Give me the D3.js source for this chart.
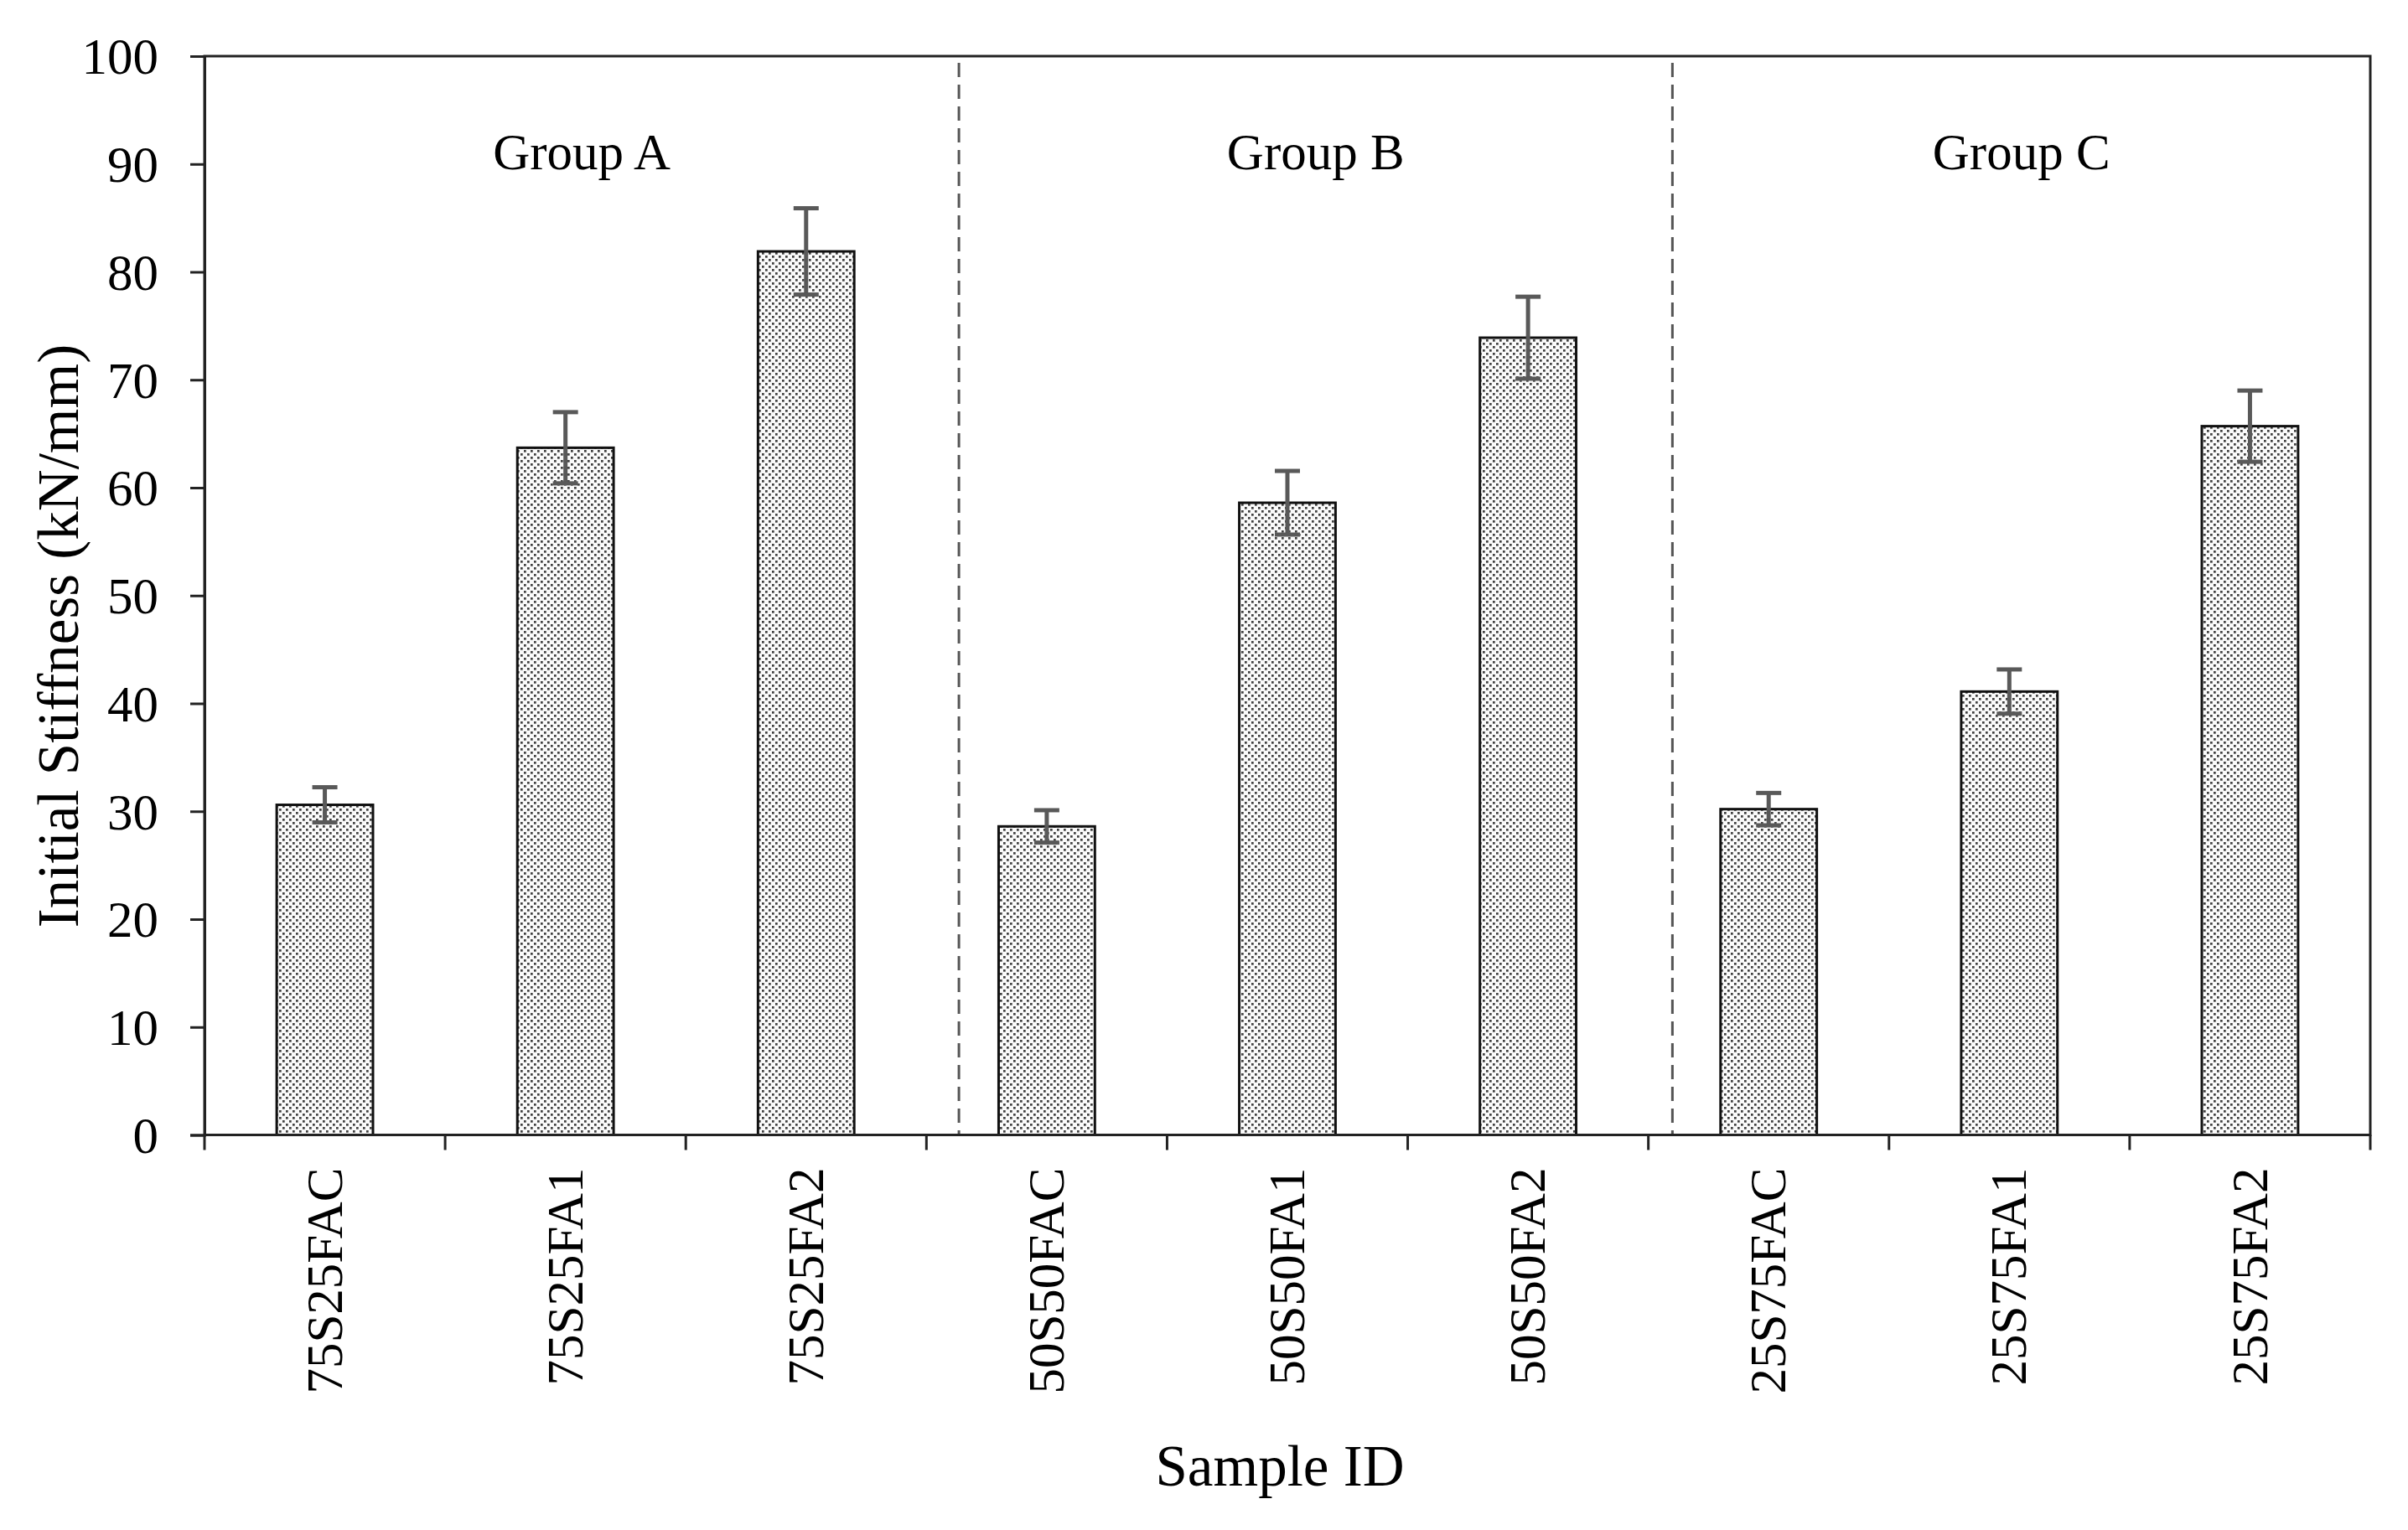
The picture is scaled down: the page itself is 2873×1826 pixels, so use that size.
<!DOCTYPE html>
<html>
<head>
<meta charset="utf-8">
<script src="https://cdn.jsdelivr.net/npm/d3@7"></script>
<style>
  html, body { margin: 0; padding: 0; background: #fff; }
  svg { display: block; }
  text { font-family: "Liberation Serif", "Times New Roman", serif; fill: #000; }
</style>
</head>
<body>
<svg id="chart" width="2873" height="1826"></svg>
<script>
// ---- data ----
const categories = ["75S25FAC", "75S25FA1", "75S25FA2", "50S50FAC", "50S50FA1", "50S50FA2", "25S75FAC", "25S75FA1", "25S75FA2"];
const stiffness  = [30.6, 63.7, 81.9, 28.6, 58.6, 73.9, 30.2, 41.1, 65.7];
const errors     = [1.63, 3.3, 4.0, 1.5, 2.95, 3.8, 1.5, 2.05, 3.3];
const groupNames = ["Group A", "Group B", "Group C"];
const dividerAt  = [3.135, 6.1];          // divider positions, in category-step units
const yTicks     = [0, 10, 20, 30, 40, 50, 60, 70, 80, 90, 100];

// ---- layout ----
const W = 2873, H = 1826;
const L = 244, R = 2828, T = 67, B = 1354.5;
const svg = d3.select("#chart");

const x = d3.scaleBand().domain(categories).range([L, R]).paddingInner(0.6).paddingOuter(0.3);
const y = d3.scaleLinear().domain([0, 100]).range([B, T]);
const step = x.step();
const edge = i => L + i * step;   // category boundary i

// pattern (dotted fill)
const defs = svg.append("defs");
const pat = defs.append("pattern").attr("id", "dots").attr("patternUnits", "userSpaceOnUse")
  .attr("width", 8).attr("height", 8);
pat.append("rect").attr("width", 8).attr("height", 8).attr("fill", "#fafafa");
pat.append("rect").attr("x", 1).attr("y", 1).attr("width", 2.7).attr("height", 2.7).attr("fill", "#3f3f3f");
pat.append("rect").attr("x", 5).attr("y", 5).attr("width", 2.7).attr("height", 2.7).attr("fill", "#3f3f3f");

// dividers
svg.append("g").selectAll("line").data(dividerAt).join("line")
  .attr("x1", d => edge(d)).attr("x2", d => edge(d))
  .attr("y1", T + 8).attr("y2", B)
  .attr("stroke", "#555").attr("stroke-width", 3).attr("stroke-dasharray", "17,9");

// group labels (centered between dividers / frame)
const bounds = [L, ...dividerAt.map(edge), R];
svg.append("g").selectAll("text").data(groupNames).join("text")
  .attr("x", (d, i) => (bounds[i] + bounds[i + 1]) / 2)
  .attr("y", 202)
  .attr("text-anchor", "middle")
  .attr("font-size", 61)
  .text(d => d);

// bars
svg.append("g").selectAll("rect").data(categories).join("rect")
  .attr("x", d => x(d))
  .attr("y", (d, i) => y(stiffness[i]))
  .attr("width", x.bandwidth())
  .attr("height", (d, i) => y(0) - y(stiffness[i]))
  .attr("fill", "url(#dots)")
  .attr("stroke", "#111").attr("stroke-width", 3);

// error bars
const eb = svg.append("g").attr("stroke", "#595959").attr("stroke-width", 5).attr("fill", "none");
categories.forEach((c, i) => {
  const cx = x(c) + x.bandwidth() / 2;
  const hi = y(stiffness[i] + errors[i]), lo = y(stiffness[i] - errors[i]);
  eb.append("line").attr("x1", cx).attr("x2", cx).attr("y1", hi).attr("y2", lo);
  eb.append("line").attr("x1", cx - 15).attr("x2", cx + 15).attr("y1", hi).attr("y2", hi);
  eb.append("line").attr("x1", cx - 15).attr("x2", cx + 15).attr("y1", lo).attr("y2", lo);
});

// frame
svg.append("rect").attr("x", L).attr("y", T).attr("width", R - L).attr("height", B - T)
  .attr("fill", "none").attr("stroke", "#222").attr("stroke-width", 3);

// y axis
const yAxis = svg.append("g").attr("transform", `translate(${L},0)`)
  .call(d3.axisLeft(y).tickValues(yTicks).tickSize(17).tickPadding(38).tickFormat(d3.format("d")));
yAxis.select(".domain").attr("stroke", "#222").attr("stroke-width", 3);
yAxis.selectAll(".tick line").attr("stroke", "#222").attr("stroke-width", 3);
yAxis.selectAll(".tick text").attr("font-size", 61).attr("font-family", "Liberation Serif").attr("fill", "#000").attr("dy", "0.34em");

// x axis boundary ticks
svg.append("g").selectAll("line").data(d3.range(categories.length + 1)).join("line")
  .attr("x1", d => edge(d)).attr("x2", d => edge(d))
  .attr("y1", B).attr("y2", B + 18)
  .attr("stroke", "#222").attr("stroke-width", 3);

// x labels (rotated)
svg.append("g").selectAll("text").data(categories).join("text")
  .attr("transform", d => `translate(${x(d) + x.bandwidth() / 2},${B + 39}) rotate(-90)`)
  .attr("text-anchor", "end")
  .attr("dy", "0.33em")
  .attr("font-size", 61)
  .text(d => d);

// axis titles
svg.append("text").attr("x", 1527).attr("y", 1773).attr("text-anchor", "middle")
  .attr("font-size", 69).text("Sample ID");
svg.append("text").attr("transform", "translate(93,759) rotate(-90)").attr("text-anchor", "middle")
  .attr("font-size", 69).text("Initial Stiffness (kN/mm)");
</script>
</body>
</html>
